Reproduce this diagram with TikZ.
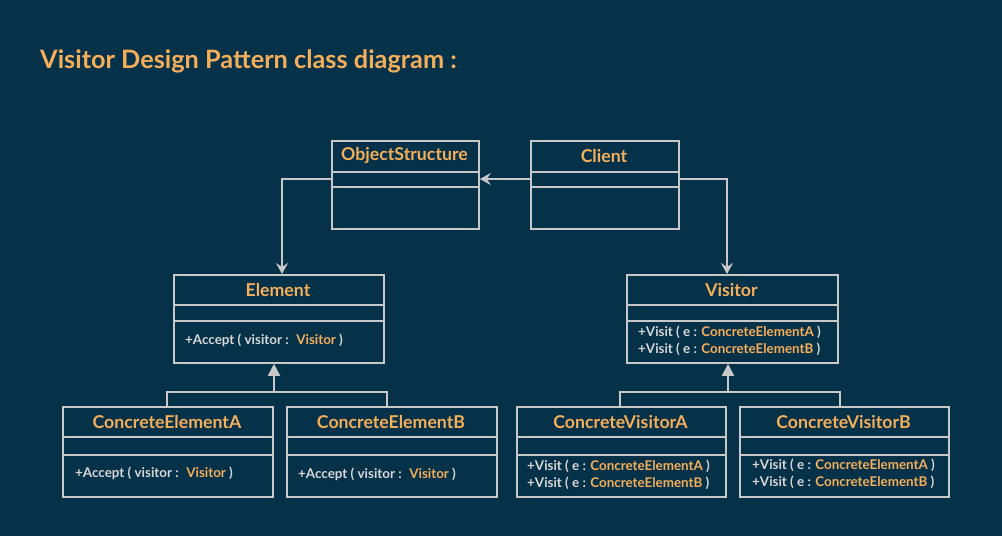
\documentclass[tikz,border=0pt]{standalone}
\usepackage{fontspec}
\setmainfont{Lato}
\usetikzlibrary{arrows.meta}
\definecolor{bg}{RGB}{5,49,73}
\definecolor{og}{RGB}{245,174,90}
\definecolor{ln}{RGB}{200,200,200}
\definecolor{tx}{RGB}{215,215,215}
\tikzset{
  box/.style={draw=ln, line width=1.8pt, rectangle, inner sep=0pt, anchor=north west},
  conn/.style={draw=ln, line width=1.8pt},
  assoc/.style={conn, -{Stealth[length=11pt, width=12pt, inset=4pt]}},
  inh/.style={conn, -{Triangle[length=12pt, width=12pt]}},
  cname/.style={text=og, font=\bfseries\fontsize{17.7}{19}\selectfont, inner sep=0pt},
  meth/.style={text=tx, font=\bfseries\fontsize{13.4}{15}\selectfont, inner sep=0pt, anchor=west},
  ttl/.style={text=og, font=\bfseries\fontsize{25.3}{28}\selectfont, inner sep=0pt, anchor=base west}
}
% name, x1, y1, x2, y2, divider1, divider2
\newcommand{\umlbox}[7]{%
  \node[box, minimum width=#4pt-#2pt, minimum height=#5pt-#3pt] (#1) at (#2pt,-#3pt) {};
  \draw[conn] (#2pt,-#6pt) -- (#4pt,-#6pt);
  \draw[conn] (#2pt,-#7pt) -- (#4pt,-#7pt);
}
\newcommand{\og}[1]{\textcolor{og}{#1}}
\begin{document}
\begin{tikzpicture}[x=1pt,y=-1pt]
\fill[bg] (0,0) rectangle (1002,536);
\useasboundingbox (0,0) rectangle (1002,536);

\node[ttl] (title) at (40,68) {Visitor Design Pattern class diagram :};

\umlbox{os}{331}{140}{478}{228}{172}{187}
\umlbox{cl}{530}{140}{678}{228}{172}{187}
\umlbox{el}{173}{274}{383}{362}{305}{321}
\umlbox{vi}{626}{274}{837}{362}{305}{321}
\umlbox{cea}{62}{406}{272}{496}{437}{455}
\umlbox{ceb}{286}{406}{496}{496}{437}{455}
\umlbox{cva}{516}{406}{725}{496}{437}{455}
\umlbox{cvb}{739}{406}{948}{496}{437}{455}

\node[cname] (osn) at (404.5,156) {ObjectStructure};
\node[cname] (cln) at (604,156) {Client};
\node[cname] (eln) at (278,290) {Element};
\node[cname] (vin) at (731.5,290) {Visitor};
\node[cname] (cean) at (167,422) {ConcreteElementA};
\node[cname] (cebn) at (391,422) {ConcreteElementB};
\node[cname] (cvan) at (620.5,422) {ConcreteVisitorA};
\node[cname] (cvbn) at (843.5,422) {ConcreteVisitorB};

\node[meth] (elm) at (185,340) {+Accept ( visitor : \ \og{Visitor} )};
\node[meth] (cam) at (75,473) {+Accept ( visitor : \ \og{Visitor} )};
\node[meth] (cbm) at (298,474) {+Accept ( visitor : \ \og{Visitor} )};
\node[meth] (vm1) at (638,332) {+Visit ( e : \og{ConcreteElementA} )};
\node[meth] (vm2) at (638,349) {+Visit ( e : \og{ConcreteElementB} )};
\node[meth] (am1) at (527,466) {+Visit ( e : \og{ConcreteElementA} )};
\node[meth] (am2) at (527,483) {+Visit ( e : \og{ConcreteElementB} )};
\node[meth] (bm1) at (752,465) {+Visit ( e : \og{ConcreteElementA} )};
\node[meth] (bm2) at (752,482) {+Visit ( e : \og{ConcreteElementB} )};

% associations
\draw[assoc] (cl.west |- 0,179) -- (os.east |- 0,179);
\coordinate (c1) at (282,179);
\coordinate (c2) at (727,179);
\draw[assoc] (os.west |- 0,179) -- (c1) -- (c1 |- el.north);
\draw[assoc] (cl.east |- 0,179) -- (c2) -- (c2 |- vi.north);

% inheritance
\coordinate (j1) at (274,392);
\coordinate (j2) at (728,392);
\draw[conn] (cea.north -| 167,0) |- (j1) -| (ceb.north -| 387,0);
\draw[inh] (j1) -- (j1 |- el.south);
\draw[conn] (cva.north -| 620,0) |- (j2) -| (cvb.north -| 840,0);
\draw[inh] (j2) -- (j2 |- vi.south);
\end{tikzpicture}
\end{document}
